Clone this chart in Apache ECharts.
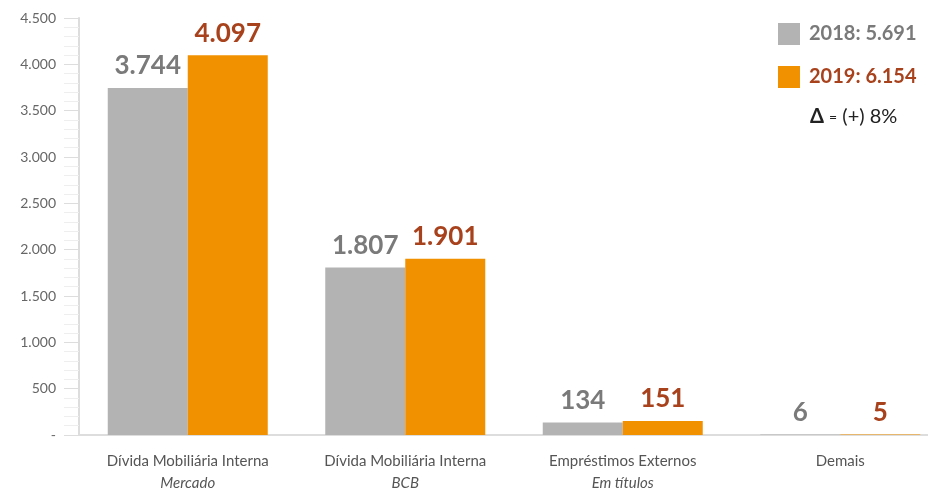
<!DOCTYPE html>
<html>
<head>
<meta charset="utf-8">
<script src="https://cdn.jsdelivr.net/npm/echarts@6/dist/echarts.min.js"></script>
<style>
  html, body { margin: 0; padding: 0; background: #fff; }
  #chart { width: 928px; height: 490px; }
</style>
</head>
<body>
<div id="chart"></div>
<script>
// categorias e valores (R$ bilhões)
var categories = ['Dívida Mobiliária Interna', 'Dívida Mobiliária Interna', 'Empréstimos Externos', 'Demais'];
var subtitles = ['Mercado', 'BCB', 'Em títulos', ''];
var values2018 = [3744, 1807, 134, 6];
var values2019 = [4097, 1901, 151, 5];
var seriesNames = ['2018', '2019'];
var deltaText = '{d|Δ} {s|=} (+) 8%';

var font = 'Lato, "Open Sans", sans-serif';
var gray = '#b3b3b3';
var orange = '#f29100';
var grayText = '#7a7a7a';
var rustText = '#a8421c';

function fmt(v) {
  return String(v).replace(/\B(?=(\d{3})+(?!\d))/g, '.');
}
function sum(a) {
  return a.reduce(function (s, x) { return s + x; }, 0);
}
var totals = {};
totals[seriesNames[0]] = sum(values2018);
totals[seriesNames[1]] = sum(values2019);

var myChart = echarts.init(document.getElementById('chart'));
myChart.setOption({
  animation: false,
  textStyle: { fontFamily: font },
  grid: { left: 79, top: 18, width: 870, height: 417, containLabel: false, outerBoundsMode: 'none' },
  legend: {
    orient: 'vertical',
    left: 773,
    top: 18,
    itemWidth: 22,
    itemHeight: 22,
    itemGap: 21,
    icon: 'rect',
    data: [
      { name: seriesNames[0], textStyle: { color: grayText } },
      { name: seriesNames[1], textStyle: { color: rustText } }
    ],
    textStyle: { fontSize: 20, fontWeight: 'bold', fontFamily: font, padding: [0, 0, 0, 4] },
    formatter: function (name) {
      return name + ': ' + fmt(totals[name]);
    }
  },
  graphic: [{
    type: 'text',
    left: 810,
    top: 107,
    style: {
      text: deltaText,
      fill: '#222',
      font: '20px ' + font,
      rich: {
        d: { fontSize: 20, fontWeight: 'bold', fill: '#222', fontFamily: font },
        s: { fontSize: 14, fill: '#222', fontFamily: font }
      }
    }
  }],
  xAxis: {
    type: 'category',
    data: categories,
    axisLine: { lineStyle: { color: '#ddd', width: 2 } },
    axisTick: { show: false },
    axisLabel: {
      margin: 15,
      interval: 0,
      formatter: function (v, i) {
        return '{a|' + v + '}\n{b|' + subtitles[i] + '}';
      },
      rich: {
        a: { fontSize: 15, color: '#555', fontFamily: font, lineHeight: 22 },
        b: { fontSize: 15, color: '#555', fontFamily: font, fontStyle: 'italic', lineHeight: 22 }
      }
    }
  },
  yAxis: {
    type: 'value',
    min: 0,
    max: 4500,
    interval: 500,
    axisLine: { show: true, lineStyle: { color: '#ddd', width: 2 } },
    axisTick: { show: true, length: 15, lineStyle: { color: '#ddd' } },
    minorTick: { show: true, splitNumber: 5, length: 15, lineStyle: { color: '#eee' } },
    splitLine: { show: false },
    axisLabel: {
      margin: 23,
      color: '#666',
      fontSize: 14,
      formatter: function (v) { return v === 0 ? '-' : fmt(v); }
    }
  },
  series: [
    {
      name: seriesNames[0],
      type: 'bar',
      data: values2018,
      barWidth: 80,
      barGap: '0%',
      itemStyle: { color: gray },
      label: {
        show: true,
        position: 'top',
        distance: 9,
        color: grayText,
        fontSize: 26,
        fontWeight: 'bold',
        formatter: function (p) { return fmt(p.value); }
      }
    },
    {
      name: seriesNames[1],
      type: 'bar',
      data: values2019,
      barWidth: 80,
      itemStyle: { color: orange },
      label: {
        show: true,
        position: 'top',
        distance: 9,
        color: rustText,
        fontSize: 26,
        fontWeight: 'bold',
        formatter: function (p) { return fmt(p.value); }
      }
    }
  ]
});
</script>
</body>
</html>
